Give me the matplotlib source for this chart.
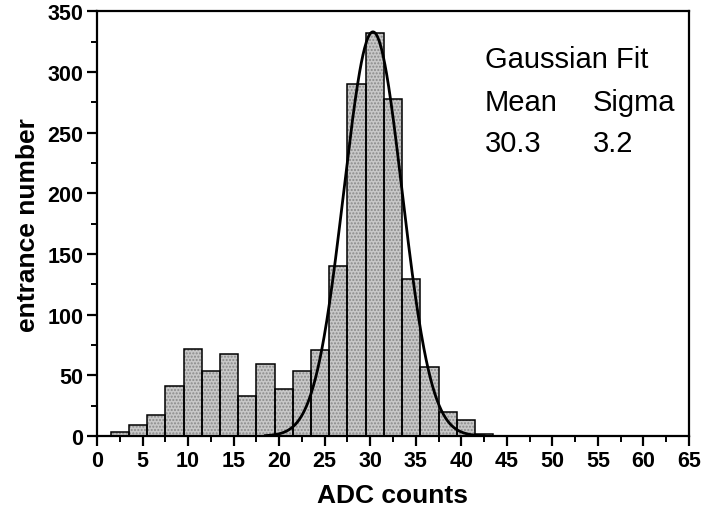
import numpy as np
import matplotlib
matplotlib.use("Agg")
import matplotlib.pyplot as plt
from matplotlib.ticker import MultipleLocator

plt.rcParams['font.family'] = ['Liberation Sans', 'DejaVu Sans']

# histogram of ADC counts, bins of width 2
bin_centers = np.arange(2.5, 43.0, 2.0)
counts = [3, 9, 17, 41, 72, 54, 68, 33, 59, 39, 54, 71,
          140, 290, 332, 278, 129, 57, 20, 13, 2]
bin_width = 2.0

# gaussian fit parameters
fit_mean = 30.3
fit_sigma = 3.2
fit_amp = 333.0

fig = plt.figure(figsize=(7.03, 5.10), dpi=100)
ax = fig.add_axes([0.138, 0.143, 0.842, 0.833])

# stippled grey fill, then black outlines on top
ax.bar(bin_centers, counts, width=bin_width, color='#c8c8c8',
       edgecolor='#8a8a8a', hatch='.....', linewidth=0, zorder=2)
ax.bar(bin_centers, counts, width=bin_width, fill=False,
       edgecolor='black', linewidth=1.1, zorder=3)

xf = np.linspace(18.5, 42.5, 400)
yf = fit_amp * np.exp(-(xf - fit_mean) ** 2 / (2 * fit_sigma ** 2))
ax.plot(xf, yf, color='black', linewidth=2.0, zorder=4)

ax.set_xlim(0, 65)
ax.set_ylim(0, 350)
ax.xaxis.set_major_locator(MultipleLocator(5))
ax.xaxis.set_minor_locator(MultipleLocator(2.5))
ax.yaxis.set_major_locator(MultipleLocator(50))
ax.yaxis.set_minor_locator(MultipleLocator(25))

for s in ax.spines.values():
    s.set_linewidth(1.6)
ax.tick_params(which='major', direction='out', length=7, width=1.6,
               labelsize=15.5, pad=3)
ax.tick_params(which='minor', direction='out', length=4, width=1.4)
for lab in ax.get_xticklabels() + ax.get_yticklabels():
    lab.set_fontweight('bold')

ax.set_xlabel('ADC counts', fontsize=19, fontweight='bold', labelpad=9)
ax.set_ylabel('entrance number', fontsize=19, fontweight='bold', labelpad=5)

tx = dict(fontsize=21, transform=ax.transAxes, va='baseline')
ax.text(0.655, 0.868, 'Gaussian Fit', **tx)
ax.text(0.655, 0.768, 'Mean', **tx)
ax.text(0.838, 0.768, 'Sigma', **tx)
ax.text(0.655, 0.672, '30.3', **tx)
ax.text(0.838, 0.672, '3.2', **tx)

fig.savefig('out.png', dpi=100)
